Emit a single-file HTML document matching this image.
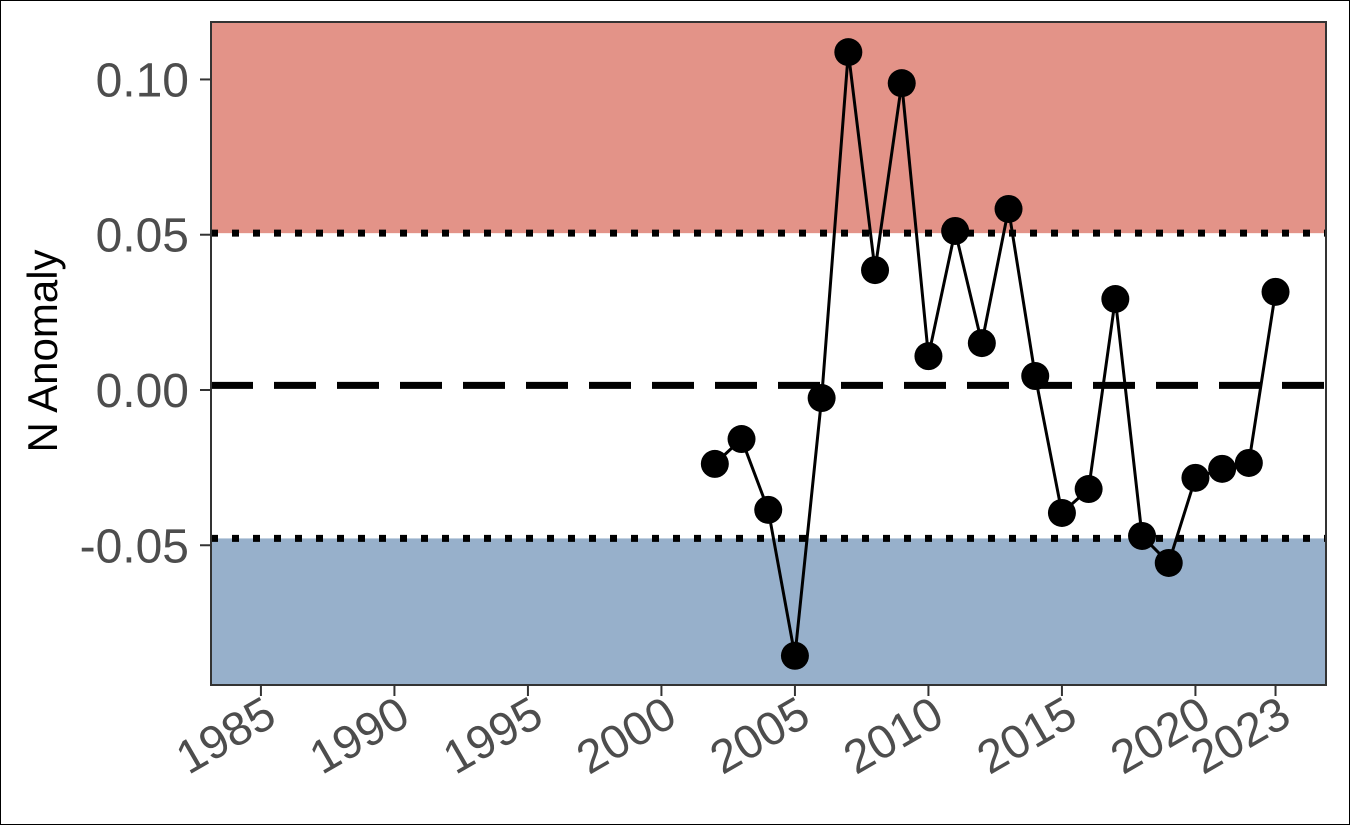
<!DOCTYPE html>
<html><head><meta charset="utf-8"><style>
html,body{margin:0;padding:0;background:#fff}
svg{display:block;font-family:"Liberation Sans",Arial,sans-serif}
</style></head><body>
<svg id="chart" width="1350" height="825">
<rect x="0.5" y="0.5" width="1349" height="824" fill="#fff" stroke="#000" stroke-width="1"/>
</svg>
<script>
const years=[2002,2003,2004,2005,2006,2007,2008,2009,2010,2011,2012,2013,2014,2015,2016,2017,2018,2019,2020,2021,2022,2023];
const values=[-0.0238,-0.0158,-0.0386,-0.0856,-0.0026,0.1088,0.0386,0.0988,0.0109,0.0512,0.0151,0.0583,0.0045,-0.0396,-0.0319,0.0293,-0.0470,-0.0557,-0.0283,-0.0254,-0.0235,0.0316];
const xTicks=[1985,1990,1995,2000,2005,2010,2015,2020,2023];
const yTicks=[0.10,0.05,0.00,-0.05];
const yTickLabels=["0.10","0.05","0.00","-0.05"];
const upperThreshold=0.0505;
const lowerThreshold=-0.0478;
const meanLine=0.0015;

const L=211,R=1326,T=22,B=685;
const x0=1983.13,x1=2024.89,y0=-0.095,y1=0.1185;
const sx=v=>L+(v-x0)/(x1-x0)*(R-L);
const sy=v=>B-(v-y0)/(y1-y0)*(B-T);
const svg=document.getElementById('chart');
const NS='http://www.w3.org/2000/svg';
function mk(tag,attrs,parent){const e=document.createElementNS(NS,tag);for(const k in attrs)e.setAttribute(k,attrs[k]);(parent||svg).appendChild(e);return e;}

let e=mk('rect',{x:L,y:T,width:R-L,height:sy(upperThreshold)-T,fill:'#e39388'});


e=mk('rect',{x:L,y:sy(lowerThreshold),width:R-L,height:B-sy(lowerThreshold),fill:'#97b0cb'});



e=mk('line',{x1:L,x2:R,y1:sy(upperThreshold),y2:sy(upperThreshold),stroke:'#000','stroke-width':7,'stroke-dasharray':'7 14'});


e=mk('line',{x1:L,x2:R,y1:sy(lowerThreshold),y2:sy(lowerThreshold),stroke:'#000','stroke-width':7,'stroke-dasharray':'7 14'});


e=mk('line',{x1:L,x2:R,y1:sy(meanLine),y2:sy(meanLine),stroke:'#000','stroke-width':7,'stroke-dasharray':'42 21'});



e=mk('polyline',{points:years.map((y,i)=>sx(y)+','+sy(values[i])).join(' '),fill:'none',stroke:'#000','stroke-width':3});


years.forEach((y,i)=>{
  const c=mk('circle',{cx:sx(y),cy:sy(values[i]),r:14,fill:'#000'});
  
  
});

e=mk('rect',{x:L,y:T,width:R-L,height:B-T,fill:'none',stroke:'#333','stroke-width':2});



yTicks.forEach((v,i)=>{
  const yy=sy(v);
  const t=mk('line',{x1:L-11,x2:L,y1:yy,y2:yy,stroke:'#333','stroke-width':2});
  
  
  const tx=mk('text',{x:L-22,y:yy+17,'text-anchor':'end','font-size':48,fill:'#4d4d4d'});
  tx.textContent=yTickLabels[i];
  
  
});
xTicks.forEach(v=>{
  const xx=sx(v);
  const t=mk('line',{x1:xx,x2:xx,y1:B,y2:B+11,stroke:'#333','stroke-width':2});
  
  
  const tx=mk('text',{x:0,y:0,'text-anchor':'end','font-size':47,fill:'#4d4d4d',transform:`translate(${xx+18},${B+38}) rotate(-30)`});
  tx.textContent=String(v);
  
  
});
e=mk('text',{x:0,y:0,'text-anchor':'middle','font-size':42,fill:'#000',transform:`translate(57,351) rotate(-90)`});
e.textContent='N Anomaly';


</script>
</body></html>
